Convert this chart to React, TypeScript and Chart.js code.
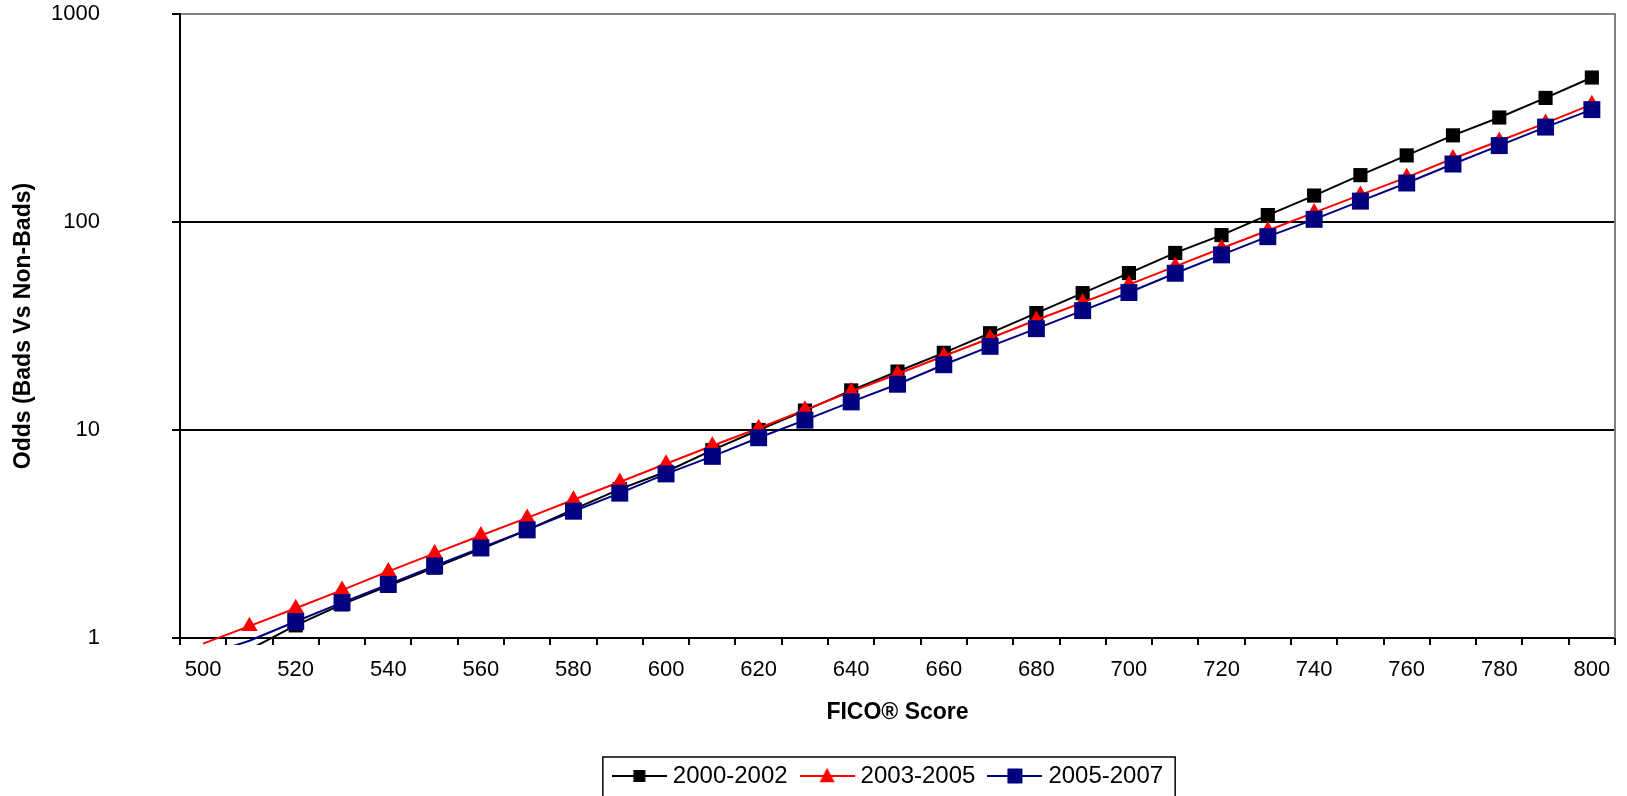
import React, { useEffect, useRef } from 'react';
import { Chart, registerables } from 'chart.js';

Chart.register(...registerables);

// ---- Data ----
const xCategories = [
  '500', '510', '520', '530', '540', '550', '560', '570', '580', '590',
  '600', '610', '620', '630', '640', '650', '660', '670', '680', '690',
  '700', '710', '720', '730', '740', '750', '760', '770', '780', '790', '800',
];
const xTickLabels = ['500', '520', '540', '560', '580', '600', '620', '640', '660', '680', '700', '720', '740', '760', '780', '800'];
const yTickValues = [1, 10, 100, 1000];

const seriesNames = ['2000-2002', '2003-2005', '2005-2007'];

const odds2000to2002 = [
  null, 0.88, 1.15, 1.45, 1.78, 2.18, 2.68, 3.3, 4.15, 5.2,
  6.3, 8.0, 10.0, 12.4, 15.5, 19.1, 23.5, 29.2, 36.5, 45.5,
  56.8, 71, 86.5, 108, 134, 168, 209, 261, 318, 395, 495,
];
const odds2003to2005 = [
  0.94, 1.14, 1.39, 1.7, 2.09, 2.55, 3.11, 3.78, 4.62, 5.62,
  6.88, 8.4, 10.2, 12.5, 15.3, 18.6, 22.7, 27.6, 33.8, 41.0,
  50.0, 61.2, 74.8, 91, 111, 135, 164, 202, 245, 299, 368,
];
const odds2005to2007 = [
  0.82, 0.97, 1.2, 1.48, 1.81, 2.22, 2.71, 3.31, 4.07, 4.97,
  6.15, 7.47, 9.18, 11.15, 13.65, 16.6, 20.6, 25.25, 30.7, 37.5,
  45.8, 56.7, 69.5, 85, 103, 126, 154, 190, 233, 286, 347,
];

const seriesColors = ['#000000', '#FF0000', '#000080'];
const seriesMarkers = ['rect', 'triangle', 'rect'];
const markerRadii = [10, 9.5, 12];

const LEGEND_SHIFT_X = 82;

function makeLegendSymbol(color: string, marker: string, size: number): HTMLCanvasElement {
  const c = document.createElement('canvas');
  c.width = 55;
  c.height = 24;
  const g = c.getContext('2d')!;
  g.strokeStyle = color;
  g.lineWidth = 2;
  g.beginPath();
  g.moveTo(0, 12);
  g.lineTo(55, 12);
  g.stroke();
  g.fillStyle = color;
  if (marker === 'triangle') {
    g.beginPath();
    g.moveTo(27.5, 12 - size * 0.55);
    g.lineTo(27.5 + size / 2, 12 + size * 0.42);
    g.lineTo(27.5 - size / 2, 12 + size * 0.42);
    g.closePath();
    g.fill();
  } else {
    g.fillRect(27.5 - size / 2, 12 - size / 2, size, size);
  }
  return c;
}

const framePlugin = {
  id: 'frameAndLegendBox',
  afterLayout(chart: any) {
    const lg = chart.legend;
    if (lg) {
      lg.left += LEGEND_SHIFT_X;
      lg.right += LEGEND_SHIFT_X;
    }
  },
  afterDraw(chart: any) {
    const { ctx, chartArea } = chart;
    ctx.save();
    // plot area right border (grey)
    ctx.strokeStyle = '#808080';
    ctx.lineWidth = 2;
    ctx.beginPath();
    ctx.moveTo(chartArea.right, chartArea.top - 1);
    ctx.lineTo(chartArea.right, chartArea.bottom);
    ctx.stroke();
    // legend frame
    const lg = chart.legend;
    const hb = lg && lg.legendHitBoxes;
    if (hb && hb.length) {
      const first = hb[0];
      const last = hb[hb.length - 1];
      const left = first.left - 15;
      const right = last.left + last.width + 12;
      const top = first.top - 7;
      const bottom = chart.height + 20;
      ctx.strokeStyle = '#000000';
      ctx.lineWidth = 1.5;
      ctx.strokeRect(left, top, right - left, bottom - top);
    }
    ctx.restore();
  },
};

export default function App() {
  const canvasRef = useRef<HTMLCanvasElement | null>(null);

  useEffect(() => {
    const canvas = canvasRef.current;
    if (!canvas) return;
    Chart.defaults.font.family = '"Liberation Sans", Arial, sans-serif';
    Chart.defaults.color = '#000000';

    const seriesData = [odds2000to2002, odds2003to2005, odds2005to2007];
    const datasets = seriesData.map((d, i) => ({
      label: seriesNames[i],
      data: d,
      borderColor: seriesColors[i],
      backgroundColor: seriesColors[i],
      borderWidth: 2,
      tension: 0,
      pointStyle: seriesMarkers[i],
      pointBackgroundColor: seriesColors[i],
      pointBorderWidth: 0,
      pointRadius: (c: any) => (c.raw == null || c.raw < 1 ? 0 : markerRadii[i]),
      pointHoverRadius: (c: any) => (c.raw == null || c.raw < 1 ? 0 : markerRadii[i]),
      order: 3 - i,
      clip: { left: 0, top: 0, right: 0, bottom: 7 },
      spanGaps: false,
    }));

    const legendSymbols = [
      makeLegendSymbol(seriesColors[0], 'rect', 12),
      makeLegendSymbol(seriesColors[1], 'triangle', 15),
      makeLegendSymbol(seriesColors[2], 'rect', 15),
    ];

    const chart = new Chart(canvas, {
      type: 'line',
      data: { labels: xCategories, datasets: datasets as any },
      plugins: [framePlugin],
      options: {
        responsive: false,
        animation: false,
        events: [],
        layout: { padding: { left: 0, right: 10, top: 14, bottom: -2 } },
        plugins: {
          tooltip: { enabled: false },
          title: { display: false },
          legend: {
            display: true,
            position: 'bottom',
            labels: {
              usePointStyle: true,
              pointStyleWidth: 43,
              padding: 18,
              color: '#000000',
              font: { size: 24 },
              generateLabels: () =>
                seriesNames.map((name, i) => ({
                  text: name,
                  pointStyle: legendSymbols[i],
                  datasetIndex: i,
                  hidden: false,
                  fillStyle: seriesColors[i],
                  strokeStyle: seriesColors[i],
                  lineWidth: 0,
                  fontColor: '#000000',
                })),
            },
          },
        },
        scales: {
          x: {
            type: 'category',
            offset: true,
            grid: {
              display: true,
              offset: true,
              drawOnChartArea: false,
              drawTicks: true,
              tickLength: 7,
              color: '#000000',
              lineWidth: 2,
            },
            border: { display: true, color: '#000000', width: 2 },
            ticks: {
              autoSkip: false,
              maxRotation: 0,
              minRotation: 0,
              padding: 12,
              font: { size: 22 },
              color: '#000000',
              callback: (_v: any, i: number) => (xTickLabels.includes(xCategories[i]) ? xCategories[i] : ''),
            },
            title: {
              display: true,
              text: 'FICO® Score',
              font: { size: 23, weight: 'bold' },
              color: '#000000',
              padding: { top: 0, bottom: 20 },
            },
            afterFit: (s: any) => {
              s.height = 108;
            },
          },
          y: {
            type: 'logarithmic',
            min: 1,
            max: 1000,
            grid: {
              display: true,
              drawTicks: true,
              tickLength: 8,
              lineWidth: 2,
              color: (c: any) => (c.tick && c.tick.value === 1000 ? '#808080' : '#000000'),
              tickColor: '#000000',
            },
            border: { display: true, color: '#000000', width: 2 },
            afterBuildTicks: (s: any) => {
              s.ticks = yTickValues.map((v) => ({ value: v }));
            },
            ticks: {
              padding: 72,
              font: { size: 22 },
              color: '#000000',
              callback: (v: any) => String(v),
            },
            title: {
              display: true,
              text: 'Odds (Bads Vs Non-Bads)',
              font: { size: 23, weight: 'bold' },
              color: '#000000',
              padding: { top: 10, bottom: 0 },
            },
            afterFit: (s: any) => {
              s.width = 180;
              s.paddingTop = 13;
              s.paddingBottom = 13;
            },
          },
        },
      } as any,
    });

    return () => {
      chart.destroy();
    };
  }, []);

  return (
    <div style={{ position: 'fixed', left: 0, top: 0, width: 1627, height: 796, background: '#ffffff' }}>
      <canvas ref={canvasRef} width={1627} height={796} style={{ display: 'block' }} />
    </div>
  );
}
